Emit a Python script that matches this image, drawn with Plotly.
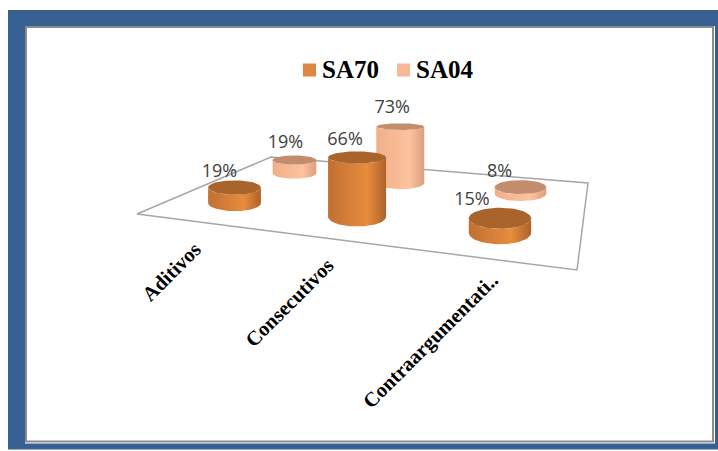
import numpy as np
import plotly.graph_objects as go

categories = ["Aditivos", "Consecutivos", "Contraargumentati.."]
series_names = ["SA70", "SA04"]
sa70_values = [19, 66, 15]
sa04_values = [19, 73, 8]

# ---- styling / scene geometry (pixels of the 718x451 canvas) ----
FLOOR = np.array([[137, 214], [577, 270], [588, 183], [271, 157]], float)  # front-left, front-right, back-right, back-left
HORIZON_Y = 61.0
PERSPECTIVE = [0.91, 1.0, 1.075]
PX_PER_PCT = {"SA70": 0.9, "SA04": 0.77}
RADIUS = {"SA70": 29.0, "SA04": 24.0}
SHIFT_X = {"SA70": 0.0, "SA04": 1.0}
LABEL_DX = {"SA70": [-15, -12, -28], "SA04": [-9, -8, -21]}
LABEL_DY = {"SA70": [-15, -16.5, -17.5], "SA04": [-17, -18, -15]}
SIDE = {"SA70": ["rgb(192,112,50)", "rgb(232,140,62)", "rgb(172,98,42)"],
        "SA04": ["rgb(240,174,136)", "rgb(253,194,158)", "rgb(221,160,128)"]}
TOP = {"SA70": "#A9642C", "SA04": "#C38D6D"}
LEGEND_COLOR = {"SA70": "#DD8743", "SA04": "#F7B897"}
LEGEND_MARKER_X = {"SA70": 309.5, "SA04": 403.5}
LEGEND_TEXT_X = {"SA70": 322, "SA04": 416}
LEGEND_Y = 70


def homography(corners):
    src = [(0, 0), (1, 0), (1, 1), (0, 1)]
    a, b = [], []
    for (u, v), (x, y) in zip(src, corners):
        a.append([u, v, 1, 0, 0, 0, -u * x, -v * x]); b.append(x)
        a.append([0, 0, 0, u, v, 1, -u * y, -v * y]); b.append(y)
    h = np.linalg.solve(np.array(a), np.array(b))
    return np.append(h, 1).reshape(3, 3)


H = homography(FLOOR)


def project(u, v):
    p = H @ np.array([u, v, 1.0])
    return p[:2] / p[2]


fig = go.Figure()

# floor
fx = list(FLOOR[:, 0]) + [FLOOR[0, 0]]
fy = list(FLOOR[:, 1]) + [FLOOR[0, 1]]
fig.add_trace(go.Scatter(x=fx, y=fy, mode="lines", line=dict(color="#A6A6A6", width=1.5),
                         showlegend=False, hoverinfo="skip"))

values = {"SA70": sa70_values, "SA04": sa04_values}
label_x, label_y, label_t = [], [], []
for name, v in (("SA04", 0.75), ("SA70", 0.25)):
    for i, val in enumerate(values[name]):
        u = (i + 0.5) / len(categories)
        cx, yb = project(u, v)
        cx += SHIFT_X[name]
        yb += 1
        rx = RADIUS[name] * PERSPECTIVE[i]
        yt = yb - val * PX_PER_PCT[name] * PERSPECTIVE[i]
        k = 0.00215 * rx
        ryb, ryt = k * (yb - HORIZON_Y), k * (yt - HORIZON_Y)
        # side: lower half of base ellipse, then upper rim back across
        th = np.linspace(0, np.pi, 60)
        xs = list(cx + rx * np.cos(th)) + list(cx + rx * np.cos(th[::-1]))
        ys = list(yb + ryb * np.sin(th)) + list(yt + ryt * np.sin(th[::-1]))
        c0, c1, c2 = SIDE[name]
        fig.add_trace(go.Scatter(x=xs, y=ys, mode="lines", fill="toself", line=dict(width=0),
                                 fillgradient=dict(type="horizontal",
                                                   colorscale=[[0, c0], [0.68, c1], [1, c2]]),
                                 showlegend=False, hoverinfo="skip"))
        # top
        th = np.linspace(0, 2 * np.pi, 80)
        fig.add_trace(go.Scatter(x=cx + rx * np.cos(th), y=yt + ryt * np.sin(th), mode="lines",
                                 fill="toself", line=dict(width=0), fillcolor=TOP[name],
                                 showlegend=False, hoverinfo="skip"))
        label_x.append(cx + LABEL_DX[name][i])
        label_y.append(yt + LABEL_DY[name][i])
        label_t.append(f"{val}%")

fig.add_trace(go.Scatter(x=label_x, y=label_y, mode="text", text=label_t, textposition="middle center",
                         textfont=dict(family="Open Sans", size=18, color="#404040"),
                         showlegend=False, hoverinfo="skip"))

# legend entries
for name in series_names:
    fig.add_trace(go.Scatter(x=[LEGEND_MARKER_X[name]], y=[LEGEND_Y], mode="markers", name=name,
                             marker=dict(symbol="square", size=13, color=LEGEND_COLOR[name], line=dict(width=0)),
                             showlegend=False, hoverinfo="skip"))

annotations = [dict(x=LEGEND_TEXT_X[n], y=LEGEND_Y - 1, text="<b>%s</b>" % n, showarrow=False,
                    xanchor="left", yanchor="middle", xref="x", yref="y", xshift=-2,
                    font=dict(family="Liberation Serif", size=25, color="#000000"))
               for n in series_names]

# category labels
CAT_POS = [(171, 272), (289, 303), (430, 341)]
annotations += [dict(x=x, y=y, text="<b>%s</b>" % c, showarrow=False, textangle=-45, xref="x", yref="y",
                     xanchor="center", yanchor="middle",
                     font=dict(family="Liberation Serif", size=20.5, color="#000000"))
                for c, (x, y) in zip(categories, CAT_POS)]

shapes = [
    dict(type="rect", xref="x", yref="y", x0=8, y0=10, x1=718, y1=449.5, layer="below",
         fillcolor="#366092", line=dict(width=0)),
    dict(type="rect", xref="x", yref="y", x0=25, y0=26, x1=715, y1=443.5, layer="below",
         fillcolor="#FFFFFF", line=dict(width=0)),
    dict(type="rect", xref="x", yref="y", x0=26, y0=27, x1=713, y1=441.5, layer="below",
         fillcolor="#FFFFFF", line=dict(color="#8C8C8C", width=2)),
]

fig.update_layout(
    width=718, height=451, margin=dict(l=0, r=0, t=0, b=0),
    paper_bgcolor="#FFFFFF", plot_bgcolor="rgba(0,0,0,0)",
    xaxis=dict(range=[0, 718], visible=False, fixedrange=True),
    yaxis=dict(range=[451, 0], visible=False, fixedrange=True),
    shapes=shapes, annotations=annotations, showlegend=False,
)
fig.write_html("out.html", config=dict(displayModeBar=False),
               post_script="document.body.style.margin='0';document.body.style.overflow='hidden';")
